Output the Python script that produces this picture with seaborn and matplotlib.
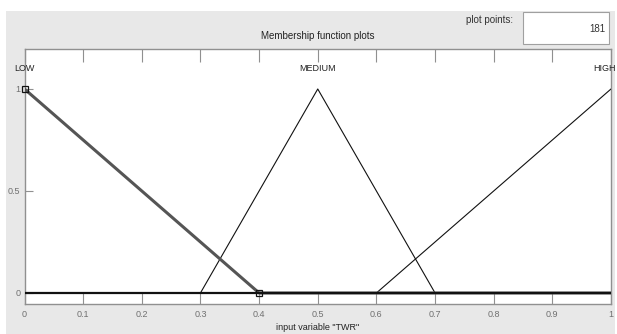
import matplotlib
matplotlib.use("Agg")
import matplotlib.pyplot as plt
from matplotlib.patches import Rectangle
import matplotlib.transforms as mtransforms
import seaborn as sns
import pandas as pd

# ---- data ----
low_x = [0.0, 0.4, 1.0]
low_y = [1.0, 0.0, 0.0]
medium_x = [0.0, 0.3, 0.5, 0.7, 1.0]
medium_y = [0.0, 0.0, 1.0, 0.0, 0.0]
high_x = [0.0, 0.6, 1.0]
high_y = [0.0, 0.0, 1.0]
mf_names = ["LOW", "MEDIUM", "HIGH"]
mf_peaks = [0.0, 0.5, 1.0]
x_ticks = [0, 0.1, 0.2, 0.3, 0.4, 0.5, 0.6, 0.7, 0.8, 0.9, 1]
x_tick_labels = ["0", "0.1", "0.2", "0.3", "0.4", "0.5", "0.6", "0.7", "0.8", "0.9", "1"]
y_ticks = [0, 0.5, 1]
y_tick_labels = ["0", "0.5", "1"]
plot_points = "181"

sns.set_style("white")
plt.rcParams["font.family"] = ["Liberation Sans Narrow", "Liberation Sans", "DejaVu Sans"]

W, H = 617, 334
fig = plt.figure(figsize=(W / 100, H / 100), dpi=100)
fig.patch.set_facecolor("white")

def fx(px):
    return px / W

def fy(py):
    return 1 - py / H

grey_bg = "#e8e8e8"
fig.add_artist(Rectangle((fx(6), 0), fx(615) - fx(6), fy(11), transform=fig.transFigure,
                         facecolor=grey_bg, edgecolor="none", zorder=-10))
# plot points box
fig.add_artist(Rectangle((fx(523), fy(44)), fx(609) - fx(523), fy(12) - fy(44),
                         transform=fig.transFigure, facecolor="white",
                         edgecolor="#a0a0a0", linewidth=0.8, zorder=-5))
fig.text(fx(605), fy(29), plot_points, ha="right", va="center", fontsize=7, color="#333333")
fig.text(fx(513), fy(20), "plot points:", ha="right", va="center", fontsize=7, color="#333333")
fig.text(fx(318), fy(36), "Membership function plots", ha="center", va="center",
         fontsize=7, color="#222222")

ax = fig.add_axes([fx(24.5), fy(304), fx(611) - fx(24.5), fy(49) - fy(304)])
ax.set_zorder(5)
ax.set_facecolor("white")

df_low = pd.DataFrame({"x": low_x, "y": low_y})
df_med = pd.DataFrame({"x": medium_x, "y": medium_y})
df_high = pd.DataFrame({"x": high_x, "y": high_y})

sns.lineplot(data=df_med, x="x", y="y", ax=ax, sort=False, color="#111111", linewidth=0.8,
             estimator=None, zorder=3)
sns.lineplot(data=df_high, x="x", y="y", ax=ax, sort=False, color="#111111", linewidth=0.8,
             estimator=None, zorder=3)
sns.lineplot(data=df_low, x="x", y="y", ax=ax, sort=False, color="#555555", linewidth=2.2,
             estimator=None, zorder=4)
ax.axhline(0, color="#111111", linewidth=1.6, zorder=5)
# selected-MF square markers
ax.plot([low_x[0], low_x[1]], [low_y[0], low_y[1]], linestyle="none", marker="s",
        markersize=4.5, markerfacecolor="none", markeredgecolor="#111111",
        markeredgewidth=0.9, zorder=6, clip_on=False)

for name, pk in zip(mf_names, mf_peaks):
    ha = "center"
    x = pk
    if pk >= 1.0:
        ha = "right"
        # nudge to end near the figure's right edge like the reference
        x = pk
        t = mtransforms.offset_copy(ax.transData, fig=fig, x=5, y=0, units="dots")
        ax.text(x, 1.1, name, ha=ha, va="center", fontsize=6.5, color="#222222",
                clip_on=False, transform=t)
        continue
    ax.text(x, 1.1, name, ha=ha, va="center", fontsize=6.5, color="#222222", clip_on=False)

ax.set_xlim(0, 1)
ax.set_ylim(-0.054, 1.196)
ax.set_xticks(x_ticks)
ax.set_xticklabels(x_tick_labels)
ax.set_yticks(y_ticks)
ax.set_yticklabels(y_tick_labels)
ax.set_xlabel('input variable "TWR"', fontsize=6.5, color="#222222", labelpad=3)
ax.set_ylabel("")
ax.tick_params(axis="x", direction="in", length=9, width=0.8, color="#909090",
               labelsize=6.5, labelcolor="#707070", top=True, bottom=True, pad=4)
ax.tick_params(axis="y", direction="in", length=6, width=0.8, color="#909090",
               labelsize=6.5, labelcolor="#707070", left=True, pad=3)
for s in ax.spines.values():
    s.set_color("#909090")
    s.set_linewidth(1.0)
    s.set_visible(True)

fig.savefig("out.png", dpi=100, facecolor=fig.get_facecolor())
